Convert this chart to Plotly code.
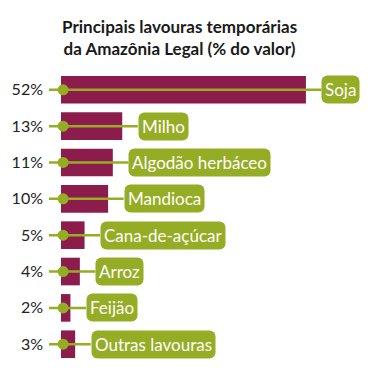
import plotly.graph_objects as go

categories = ["Soja", "Milho", "Algodão herbáceo", "Mandioca", "Cana-de-açúcar",
              "Arroz", "Feijão", "Outras lavouras"]
values = [52, 13, 11, 10, 5, 4, 2, 3]
pct_labels = [f"{v}%" for v in values]

BAR = "#8C1C4C"
GREEN = "#95AC25"
FONT = "Lato"

x0 = -2.55
x1 = 69.85
gap = 3.3

T, B = 67.5, 20.5
H = 387

fig = go.Figure()
fig.add_trace(go.Bar(x=values, y=categories, orientation="h",
                     marker=dict(color=BAR, line=dict(width=0)),
                     hoverinfo="skip"))

lx, ly = [], []
for c, v in zip(categories, values):
    lx += [x0, v + gap, None]
    ly += [c, c, None]
fig.add_trace(go.Scatter(x=lx, y=ly, mode="lines",
                         line=dict(color=GREEN, width=2.5),
                         hoverinfo="skip", cliponaxis=False))
fig.add_trace(go.Scatter(x=[0.45] * len(categories), y=categories, mode="markers",
                         marker=dict(color=GREEN, size=11, line=dict(width=0)),
                         hoverinfo="skip", cliponaxis=False))

for c, v in zip(categories, values):
    fig.add_annotation(x=v + gap, y=c, xref="x", yref="y", text=c,
                       showarrow=False, xanchor="left", yanchor="middle",
                       bgcolor=GREEN, borderpad=3,
                       font=dict(family=FONT, size=17, color="white"))

# title as annotation (centered between the two text lines at ~36 px from top)
fig.add_annotation(x=(179 - 49) / (390 - 49), y=1 + (T - 36.5) / (H - T - B),
                   xref="paper", yref="paper", xanchor="center", yanchor="middle",
                   showarrow=False, align="center",
                   text="<b>Principais lavouras temporárias<br>da Amazônia Legal (% do valor)</b>",
                   font=dict(family=FONT, size=17, color="#1a1a1a"))

fig.update_layout(
    width=390, height=H,
    margin=dict(l=49, r=0, t=T, b=B, autoexpand=False),
    paper_bgcolor="white", plot_bgcolor="white",
    showlegend=False, bargap=0.24,
    xaxis=dict(range=[x0, x1], visible=False, fixedrange=True, automargin=False),
    yaxis=dict(categoryorder="array", categoryarray=categories, autorange="reversed",
               tickmode="array", tickvals=categories, ticktext=pct_labels,
               showgrid=False, zeroline=False, showline=False, ticks="",
               ticklabelstandoff=5, automargin=False, fixedrange=True,
               tickfont=dict(family=FONT, size=16, color="#222222")),
)

post = """
document.body.style.margin='0';
function rnd(){document.querySelectorAll('.annotation rect.bg').forEach(function(r){r.setAttribute('rx',6);r.setAttribute('ry',6);});}
rnd(); setTimeout(rnd,50); setTimeout(rnd,300);
"""
fig.write_html("out.html", post_script=post, config={"displayModeBar": False})
